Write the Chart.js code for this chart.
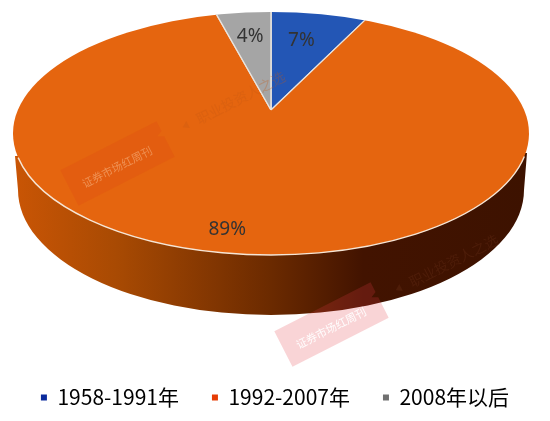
<!DOCTYPE html>
<html><head><meta charset="utf-8">
<style>html,body{margin:0;padding:0;background:#fff}#w{width:550px;height:421px}</style>
<script src="https://cdn.jsdelivr.net/npm/chart.js@4"></script></head>
<body><div id="w"><canvas id="c" width="550" height="421"></canvas></div>
<script>
const categories = ['1958-1991年','1992-2007年','2008年以后'];
const shares = [7,89,4];
const sliceColors = ['#2356b5','#e5650f','#a5a5a5'];
const legendColors = ['#0a2a9c','#e63c05','#707070'];

// Layout of the tilted disc
const apex = {x:271,y:110}, tilt = 0.45;
const face = {x:271,y:133.5,rx:258,ry:121.5};
const base = {x:271,y:190,rx:253,ry:125};
const labelRadius = [162,264,166];
const labelNudge = [[-5,2],[-19,1],[0,1]];

function facePath(ctx){ctx.beginPath();ctx.ellipse(face.x,face.y,face.rx,face.ry,0,0,Math.PI*2);}

const stamp = (ctx,x,y,fill,txt,txtFill)=>{
  ctx.save();ctx.translate(x,y);ctx.rotate(-27*Math.PI/180);
  ctx.fillStyle=fill;ctx.beginPath();
  ctx.moveTo(-54,-20);ctx.lineTo(54,-20);ctx.lineTo(54,-9);ctx.lineTo(48,-6);ctx.lineTo(54,-3);ctx.lineTo(54,20);ctx.lineTo(-54,20);ctx.closePath();ctx.fill();
  ctx.fillStyle=txtFill;ctx.font='11px "Noto Sans CJK SC"';ctx.textAlign='center';ctx.textBaseline='middle';
  ctx.fillText(txt,-2,3);ctx.restore();
};
const slogan = (ctx,x,y,fill)=>{
  ctx.save();ctx.translate(x,y);ctx.rotate(-27*Math.PI/180);
  ctx.fillStyle=fill;ctx.font='14px "Noto Sans CJK SC"';ctx.textAlign='left';ctx.textBaseline='middle';
  ctx.fillText('职业投资人之选',0,0);
  ctx.beginPath();ctx.moveTo(-16,0);ctx.lineTo(-10,-4);ctx.lineTo(-10,4);ctx.closePath();ctx.fill();
  ctx.restore();
};

const disc3d = {
  id:'disc3d',
  beforeDatasetsDraw(chart){
    const ctx=chart.ctx;
    ctx.save();
    const g=ctx.createLinearGradient(15,0,527,0);
    g.addColorStop(0,'#c95505');g.addColorStop(0.2,'#a84a03');g.addColorStop(0.5,'#6b2a00');g.addColorStop(0.68,'#421300');g.addColorStop(1,'#3d1200');
    ctx.fillStyle=g;ctx.beginPath();
    ctx.moveTo(15,156);ctx.lineTo(base.x-base.rx,base.y);
    ctx.ellipse(base.x,base.y,base.rx,base.ry,0,Math.PI,0,true);
    ctx.lineTo(527,153);ctx.closePath();ctx.fill();
    ctx.restore();
  },
  beforeDatasetDraw(chart){
    const ctx=chart.ctx, el=chart.getDatasetMeta(0).data[0];
    ctx.save();
    facePath(ctx);ctx.clip();
    ctx.translate(apex.x,apex.y);ctx.scale(1,tilt);ctx.translate(-el.x,-el.y);
  },
  afterDatasetDraw(chart){chart.ctx.restore();},
  afterDatasetsDraw(chart){
    const ctx=chart.ctx, meta=chart.getDatasetMeta(0);
    // light rim on the front edge
    ctx.save();ctx.strokeStyle='#f6e6d6';ctx.lineWidth=1.4;ctx.beginPath();
    ctx.ellipse(face.x,face.y,face.rx,face.ry,0,0.19,Math.PI-0.2);ctx.stroke();ctx.restore();
    // watermarks
    stamp(ctx,117.5,163.5,'rgba(226,82,18,0.4)','证券市场红周刊','rgba(240,150,90,0.9)');
    stamp(ctx,331.5,324.5,'rgba(226,60,70,0.22)','证券市场红周刊','rgba(255,255,255,0.95)');
    slogan(ctx,197,120,'rgba(200,90,20,0.3)');
    slogan(ctx,410,283,'rgba(120,60,30,0.25)');
    // value labels
    ctx.save();ctx.fillStyle='#333';ctx.font='19px "Noto Sans"';ctx.textAlign='center';ctx.textBaseline='middle';
    meta.data.forEach((a,i)=>{
      const mid=(a.startAngle+a.endAngle)/2, r=labelRadius[i];
      const x=apex.x+Math.cos(mid)*r+labelNudge[i][0], y=apex.y+Math.sin(mid)*r*tilt+labelNudge[i][1];
      ctx.fillText(shares[i]+'%',x,y);
    });
    ctx.restore();
  }
};

new Chart(document.getElementById('c'),{
  type:'pie',
  data:{labels:categories,datasets:[{data:shares,backgroundColor:sliceColors,borderColor:'#e9e4de',borderWidth:1.5,radius:340}]},
  options:{
    responsive:false,animation:false,
    layout:{padding:{bottom:3}},
    plugins:{
      tooltip:{enabled:false},
      legend:{position:'bottom',labels:{
        usePointStyle:true,pointStyle:'rect',boxWidth:6,boxHeight:6,padding:33,color:'#222',
        font:{family:'"Noto Sans CJK SC"',size:21},
        generateLabels:(ch)=>categories.map((t,i)=>({text:t,fillStyle:legendColors[i],strokeStyle:legendColors[i],lineWidth:0,pointStyle:'rect',index:i,hidden:false}))
      }}
    }
  },
  plugins:[disc3d]
});
</script></body></html>
